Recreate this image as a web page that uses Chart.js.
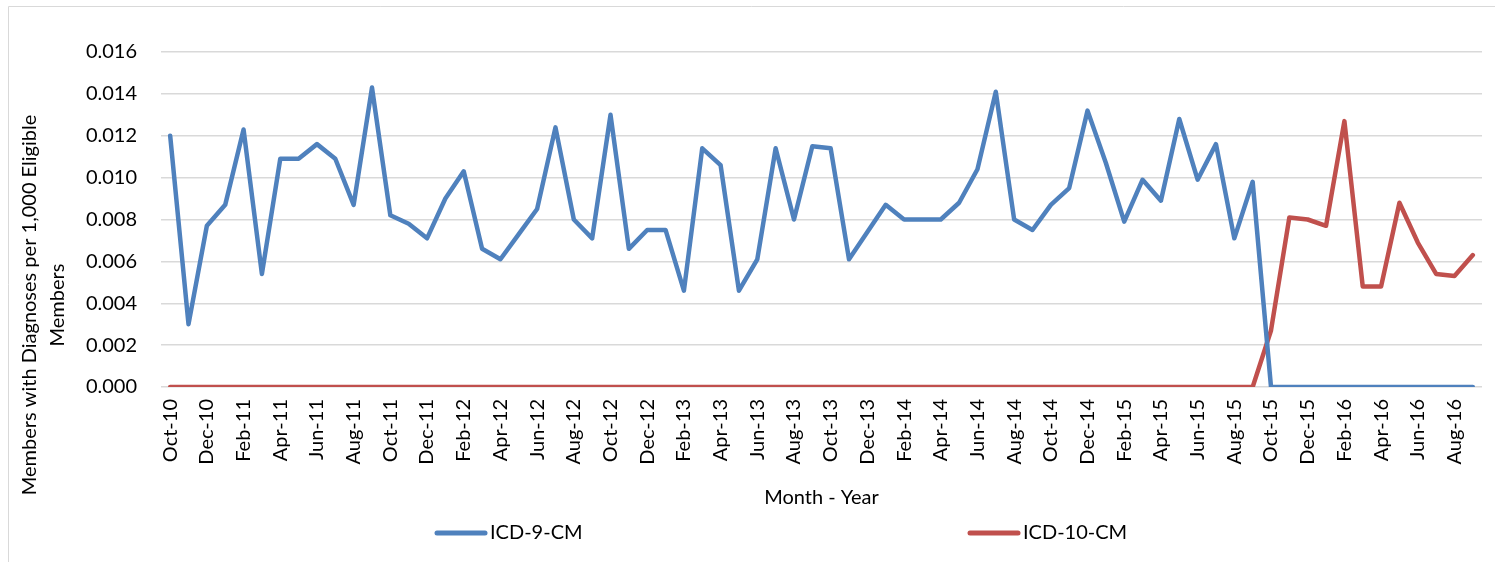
<!DOCTYPE html>
<html>
<head>
<meta charset="utf-8">
<script src="https://cdn.jsdelivr.net/npm/chart.js@4"></script>
<style>
  html, body { margin: 0; padding: 0; background: #fff; }
  #wrap { position: relative; width: 1495px; height: 562px; }
</style>
</head>
<body>
<div id="wrap"><canvas id="myChart"></canvas></div>
<script>
    // Months, Oct-10 .. Sep-16
    const months = [
        'Oct-10', 'Nov-10', 'Dec-10', 'Jan-11', 'Feb-11', 'Mar-11', 'Apr-11', 'May-11', 'Jun-11', 'Jul-11', 'Aug-11', 'Sep-11',
        'Oct-11', 'Nov-11', 'Dec-11', 'Jan-12', 'Feb-12', 'Mar-12', 'Apr-12', 'May-12', 'Jun-12', 'Jul-12', 'Aug-12', 'Sep-12',
        'Oct-12', 'Nov-12', 'Dec-12', 'Jan-13', 'Feb-13', 'Mar-13', 'Apr-13', 'May-13', 'Jun-13', 'Jul-13', 'Aug-13', 'Sep-13',
        'Oct-13', 'Nov-13', 'Dec-13', 'Jan-14', 'Feb-14', 'Mar-14', 'Apr-14', 'May-14', 'Jun-14', 'Jul-14', 'Aug-14', 'Sep-14',
        'Oct-14', 'Nov-14', 'Dec-14', 'Jan-15', 'Feb-15', 'Mar-15', 'Apr-15', 'May-15', 'Jun-15', 'Jul-15', 'Aug-15', 'Sep-15',
        'Oct-15', 'Nov-15', 'Dec-15', 'Jan-16', 'Feb-16', 'Mar-16', 'Apr-16', 'May-16', 'Jun-16', 'Jul-16', 'Aug-16', 'Sep-16'
    ];

    // Members with diagnoses per 1,000 eligible members
    const icd9 = [
        0.0120, 0.0030, 0.0077, 0.0087, 0.0123, 0.0054, 0.0109, 0.0109, 0.0116, 0.0109, 0.0087, 0.0143,
        0.0082, 0.0078, 0.0071, 0.0090, 0.0103, 0.0066, 0.0061, 0.0073, 0.0085, 0.0124, 0.0080, 0.0071,
        0.0130, 0.0066, 0.0075, 0.0075, 0.0046, 0.0114, 0.0106, 0.0046, 0.0061, 0.0114, 0.0080, 0.0115,
        0.0114, 0.0061, 0.0074, 0.0087, 0.0080, 0.0080, 0.0080, 0.0088, 0.0104, 0.0141, 0.0080, 0.0075,
        0.0087, 0.0095, 0.0132, 0.0107, 0.0079, 0.0099, 0.0089, 0.0128, 0.0099, 0.0116, 0.0071, 0.0098,
        0, 0, 0, 0, 0, 0, 0, 0, 0, 0, 0, 0
    ];
    const icd10 = [
        0, 0, 0, 0, 0, 0, 0, 0, 0, 0, 0, 0,
        0, 0, 0, 0, 0, 0, 0, 0, 0, 0, 0, 0,
        0, 0, 0, 0, 0, 0, 0, 0, 0, 0, 0, 0,
        0, 0, 0, 0, 0, 0, 0, 0, 0, 0, 0, 0,
        0, 0, 0, 0, 0, 0, 0, 0, 0, 0, 0, 0,
        0.0027, 0.0081, 0.0080, 0.0077, 0.0127, 0.0048, 0.0048, 0.0088, 0.0069, 0.0054, 0.0053, 0.0063
    ];

    const seriesNames = ['ICD-9-CM', 'ICD-10-CM'];
    const yTitle = ['Members with Diagnoses per 1,000 Eligible', 'Members'];
    const blue = '#4f81bd';
    const red = '#c0504d';
    const FONT = 'Lato';

    // frame, y title and the spread-out legend
    const extras = {
        id: 'extras',
        beforeDraw(chart) {
            const ctx = chart.ctx;
            ctx.save();
            ctx.strokeStyle = '#d9d9d9';
            ctx.lineWidth = 1;
            ctx.beginPath();
            ctx.moveTo(8.5, 562);
            ctx.lineTo(8.5, 6.5);
            ctx.lineTo(1495, 6.5);
            ctx.stroke();
            ctx.restore();
        },
        afterDraw(chart) {
            const ctx = chart.ctx;
            ctx.save();
            ctx.fillStyle = '#000';
            ctx.font = '20px ' + FONT;
            ctx.textAlign = 'center';
            ctx.textBaseline = 'middle';
            ctx.translate(30, 305);
            ctx.rotate(-Math.PI / 2);
            yTitle.forEach((line, i) => ctx.fillText(line, 0, i * 28));
            ctx.restore();

            const starts = [437, 970];
            ctx.save();
            ctx.font = '20px ' + FONT;
            ctx.textBaseline = 'middle';
            ctx.textAlign = 'left';
            chart.data.datasets.forEach((ds, i) => {
                ctx.strokeStyle = ds.borderColor;
                ctx.lineWidth = 5;
                ctx.lineCap = 'round';
                ctx.beginPath();
                ctx.moveTo(starts[i], 533);
                ctx.lineTo(starts[i] + 48, 533);
                ctx.stroke();
                ctx.fillStyle = '#000';
                ctx.fillText(ds.label, starts[i] + 53, 533);
            });
            ctx.restore();
        }
    };

    const data = {
        labels: months,
        datasets: [
            {
                label: seriesNames[0],
                data: icd9,
                borderColor: blue,
                backgroundColor: blue,
                borderWidth: 4.5,
                pointRadius: 0,
                tension: 0,
                borderCapStyle: 'round',
                borderJoinStyle: 'round',
                order: 1
            },
            {
                label: seriesNames[1],
                data: icd10,
                borderColor: red,
                backgroundColor: red,
                borderWidth: 4.5,
                pointRadius: 0,
                tension: 0,
                borderCapStyle: 'round',
                borderJoinStyle: 'round',
                order: 2
            }
        ]
    };

    const ctx = document.getElementById('myChart').getContext('2d');
    const chart = new Chart(ctx, {
        type: 'line',
        data: data,
        plugins: [extras],
        options: {
            responsive: true,
            maintainAspectRatio: false,
            animation: false,
            layout: { padding: { left: 8, right: 13, top: 52, bottom: 52 } },
            plugins: {
                legend: { display: false },
                tooltip: { enabled: false }
            },
            scales: {
                x: {
                    offset: true,
                    border: { display: false },
                    grid: { display: false, drawTicks: false },
                    ticks: {
                        autoSkip: false,
                        maxRotation: 90,
                        minRotation: 90,
                        padding: 12,
                        color: '#000',
                        font: { family: FONT, size: 20 },
                        callback: function (value, index) {
                            return index % 2 === 0 ? this.getLabelForValue(value) : '';
                        }
                    },
                    title: {
                        display: true,
                        text: 'Month - Year',
                        color: '#000',
                        font: { family: FONT, size: 20 },
                        padding: { top: 14, bottom: 0 }
                    },
                    afterFit(scale) {
                        scale.height = 123;
                        scale.paddingLeft = 0;
                        scale.paddingRight = 0;
                    }
                },
                y: {
                    min: 0,
                    max: 0.016,
                    border: { display: false },
                    grid: { color: '#d9d9d9', lineWidth: 1.5, drawTicks: false },
                    ticks: {
                        stepSize: 0.002,
                        padding: 24,
                        color: '#000',
                        font: { family: FONT, size: 20 },
                        callback: (v) => v.toFixed(3)
                    },
                    afterFit(scale) { scale.width = 153; }
                }
            }
        }
    });
</script>
</body>
</html>
